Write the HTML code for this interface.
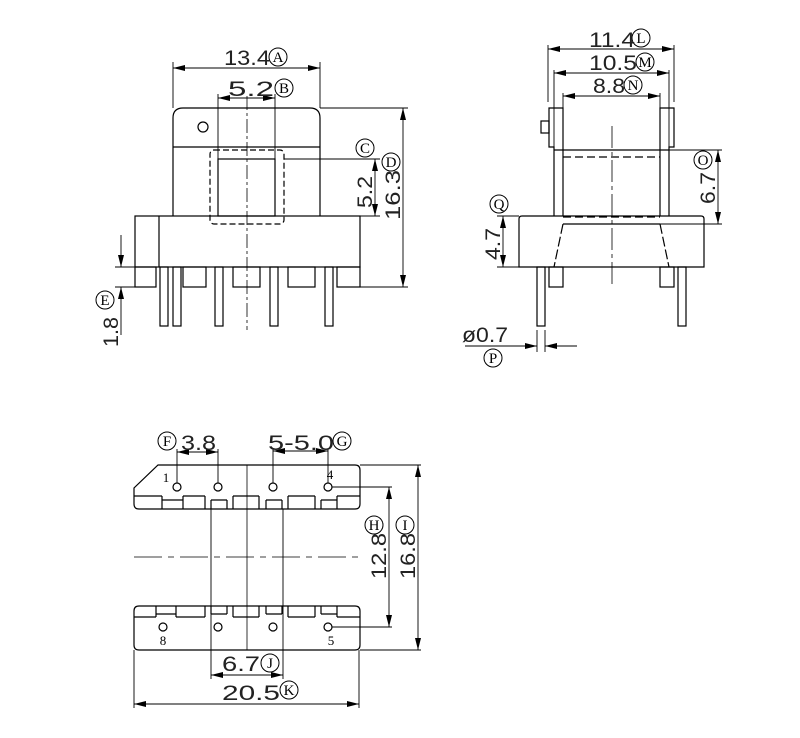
<!DOCTYPE html>
<html><head><style>body{margin:0;background:#fff}svg{display:block}</style></head><body>
<svg width="800" height="738" viewBox="0 0 800 738" xmlns="http://www.w3.org/2000/svg">
<defs>
<marker id="a" viewBox="0 0 12 6" refX="12" refY="3" markerWidth="12" markerHeight="6" markerUnits="userSpaceOnUse" orient="auto-start-reverse"><path d="M0,0L12,3L0,6z" fill="#000"/></marker>
</defs>
<g fill="none" stroke="#000" stroke-width="1.2">
<!-- FRONT VIEW -->
<path d="M173,216V118Q173,108 183,108H310Q320,108 320,118V216"/>
<line x1="173" y1="147" x2="320" y2="147"/>
<circle cx="203" cy="127" r="5"/>
<rect x="218" y="159" width="57" height="57"/>
<rect x="210" y="150" width="74" height="74" rx="4" stroke-dasharray="6,3"/>
<line x1="247" y1="96" x2="247" y2="330" stroke-dasharray="14,3,3,3" stroke-width="0.8"/>
<rect x="135" y="216" width="225" height="51"/>
<line x1="159" y1="216" x2="159" y2="267"/>
<rect x="135" y="267" width="21" height="20"/>
<rect x="183" y="267" width="23" height="20"/>
<rect x="233" y="267" width="27" height="20"/>
<rect x="288" y="267" width="27" height="20"/>
<rect x="337" y="267" width="23" height="20"/>
<rect x="160" y="267" width="8" height="59"/>
<rect x="173" y="267" width="8" height="59"/>
<rect x="215" y="267" width="8" height="59"/>
<rect x="270" y="267" width="8" height="59"/>
<rect x="325" y="267" width="8" height="59"/>
<g stroke-width="0.9">
<line x1="173" y1="62" x2="173" y2="108"/><line x1="320" y1="62" x2="320" y2="108"/>
<line x1="173" y1="68" x2="320" y2="68" marker-start="url(#a)" marker-end="url(#a)"/>
<line x1="218" y1="94" x2="218" y2="159"/><line x1="275" y1="94" x2="275" y2="159"/>
<line x1="218" y1="98" x2="275" y2="98" marker-start="url(#a)" marker-end="url(#a)"/>
<line x1="320" y1="108" x2="408" y2="108"/><line x1="360" y1="287" x2="408" y2="287"/>
<line x1="403" y1="108" x2="403" y2="287" marker-start="url(#a)" marker-end="url(#a)"/>
<line x1="284" y1="159" x2="380" y2="159"/><line x1="360" y1="216" x2="380" y2="216"/>
<line x1="375" y1="159" x2="375" y2="216" marker-start="url(#a)" marker-end="url(#a)"/>
<line x1="115" y1="267" x2="135" y2="267"/><line x1="115" y1="287" x2="135" y2="287"/>
<line x1="121" y1="235" x2="121" y2="267" marker-end="url(#a)"/>
<line x1="121" y1="335" x2="121" y2="287" marker-end="url(#a)"/>
</g>
<!-- SIDE VIEW -->
<path d="M563,216V108H549V147H554V216"/>
<path d="M660,216V108H674V147H669V216"/>
<rect x="541" y="121" width="8" height="12"/>
<line x1="554" y1="150" x2="669" y2="150"/>
<line x1="563" y1="157" x2="660" y2="157" stroke-dasharray="8,4"/>
<line x1="563" y1="217" x2="660" y2="217" stroke-dasharray="8,4"/>
<line x1="563" y1="224" x2="660" y2="224"/>
<path d="M519,267V219Q519,216 522,216H701Q704,216 704,219V267Z"/>
<line x1="563" y1="224" x2="554" y2="267" stroke-dasharray="10,3"/>
<line x1="660" y1="224" x2="669" y2="267" stroke-dasharray="10,3"/>
<rect x="549" y="267" width="14" height="20"/>
<rect x="660" y="267" width="14" height="20"/>
<rect x="537" y="267" width="8" height="59"/>
<rect x="678" y="267" width="8" height="59"/>
<line x1="612" y1="126" x2="612" y2="287" stroke-dasharray="22,4,4,4" stroke-width="0.8"/>
<g stroke-width="0.9">
<line x1="548" y1="45" x2="548" y2="102"/><line x1="674" y1="45" x2="674" y2="102"/>
<line x1="548" y1="49" x2="674" y2="49" marker-start="url(#a)" marker-end="url(#a)"/>
<line x1="554" y1="70" x2="554" y2="147"/><line x1="669" y1="70" x2="669" y2="147"/>
<line x1="554" y1="73" x2="669" y2="73" marker-start="url(#a)" marker-end="url(#a)"/>
<line x1="563" y1="93" x2="563" y2="108"/><line x1="660" y1="93" x2="660" y2="108"/>
<line x1="563" y1="96" x2="660" y2="96" marker-start="url(#a)" marker-end="url(#a)"/>
<line x1="669" y1="150" x2="722" y2="150"/><line x1="660" y1="224" x2="722" y2="224"/>
<line x1="718" y1="150" x2="718" y2="224" marker-start="url(#a)" marker-end="url(#a)"/>
<line x1="497" y1="216" x2="519" y2="216"/><line x1="497" y1="267" x2="519" y2="267"/>
<line x1="503" y1="216" x2="503" y2="267" marker-start="url(#a)" marker-end="url(#a)"/>
<line x1="537" y1="330" x2="537" y2="352"/><line x1="545" y1="330" x2="545" y2="352"/>
<line x1="465" y1="346" x2="537" y2="346" marker-end="url(#a)"/>
<line x1="577" y1="346" x2="545" y2="346" marker-end="url(#a)"/>
</g>
<!-- BOTTOM VIEW -->
<path d="M158,465H355Q360,465 360,470V504Q360,509 355,509H139Q134,509 134,504V488Z"/>
<path d="M134,496H162M183,496H205M233,496H259M288,496H315M337,496H360M162,500H183M211,500H227M266,500H282M321,500H337M162,496V509M183,496V509M205,496V509M211,500V509M227,500V509M233,496V509M259,496V509M266,500V509M282,500V509M288,496V509M315,496V509M321,500V509M337,496V509"/>
<circle cx="177" cy="487" r="4"/><circle cx="218" cy="487" r="4"/><circle cx="273" cy="487" r="4"/><circle cx="328" cy="487" r="4"/>
<path d="M139,606H355Q360,606 360,611V645Q360,650 355,650H139Q134,650 134,645V611Q134,606 139,606Z"/>
<path d="M134,617H156M176,617H205M233,617H259M288,617H315M337,617H360M156,614H176M211,614H227M266,614H282M321,614H337M156,606V617M176,606V617M205,606V617M211,606V614M227,606V614M233,606V617M259,606V617M266,606V614M282,606V614M288,606V617M315,606V617M321,606V614M337,606V617"/>
<circle cx="163" cy="627" r="4"/><circle cx="218" cy="627" r="4"/><circle cx="273" cy="627" r="4"/><circle cx="328" cy="627" r="4"/>
<line x1="134" y1="557" x2="362" y2="557" stroke-dasharray="28,6,6,6" stroke-width="0.8"/>
<line x1="247" y1="465" x2="247" y2="650" stroke-width="0.8"/>
<g stroke-width="0.9">
<line x1="211" y1="509" x2="211" y2="679"/><line x1="283" y1="509" x2="283" y2="679"/>
<line x1="211" y1="675" x2="283" y2="675" marker-start="url(#a)" marker-end="url(#a)"/>
<line x1="134" y1="650" x2="134" y2="708"/><line x1="359" y1="650" x2="359" y2="708"/>
<line x1="134" y1="704" x2="359" y2="704" marker-start="url(#a)" marker-end="url(#a)"/>
<line x1="332" y1="487" x2="392" y2="487"/><line x1="332" y1="627" x2="392" y2="627"/>
<line x1="389" y1="487" x2="389" y2="627" marker-start="url(#a)" marker-end="url(#a)"/>
<line x1="360" y1="465" x2="421" y2="465"/><line x1="360" y1="650" x2="421" y2="650"/>
<line x1="418" y1="465" x2="418" y2="650" marker-start="url(#a)" marker-end="url(#a)"/>
<line x1="177" y1="483" x2="177" y2="449"/><line x1="218" y1="483" x2="218" y2="449"/>
<line x1="177" y1="452" x2="218" y2="452" marker-start="url(#a)" marker-end="url(#a)"/>
<line x1="273" y1="483" x2="273" y2="449"/><line x1="328" y1="483" x2="328" y2="449"/>
<line x1="273" y1="451" x2="328" y2="451" marker-start="url(#a)" marker-end="url(#a)"/>
</g>
<!-- letter circles -->
<g stroke-width="1">
<circle cx="278" cy="57" r="9"/><circle cx="284" cy="88" r="9"/><circle cx="365" cy="148" r="9"/><circle cx="391" cy="162" r="9"/><circle cx="105" cy="300" r="9"/>
<circle cx="641" cy="38" r="9"/><circle cx="645" cy="62" r="9"/><circle cx="633" cy="85" r="9"/><circle cx="703" cy="160" r="9"/><circle cx="499" cy="204" r="9"/><circle cx="493" cy="358" r="9"/>
<circle cx="167" cy="441" r="9"/><circle cx="342" cy="441" r="9"/><circle cx="374" cy="525" r="9"/><circle cx="405" cy="525" r="9"/><circle cx="270" cy="663" r="9"/><circle cx="289" cy="690" r="9"/>
</g>
</g>
<g font-family="Liberation Serif, serif" font-size="15" text-anchor="middle" fill="#000">
<text x="278" y="62">A</text><text x="284" y="93">B</text><text x="365" y="153">C</text><text x="391" y="167">D</text><text x="105" y="305">E</text>
<text x="641" y="43">L</text><text x="645" y="67">M</text><text x="633" y="90">N</text><text x="703" y="165">O</text><text x="499" y="209">Q</text><text x="493" y="363">P</text>
<text x="167" y="446">F</text><text x="342" y="446">G</text><text x="374" y="530">H</text><text x="405" y="530">I</text><text x="270" y="668">J</text><text x="289" y="695">K</text>
</g>
<g font-family="Liberation Serif, serif" font-size="13" text-anchor="middle" fill="#000">
<text x="166" y="482">1</text><text x="330" y="479">4</text><text x="163" y="645">8</text><text x="331" y="645">5</text>
</g>
<g font-family="Liberation Sans, sans-serif" font-size="21" fill="#222">
<text x="224" y="65" textLength="46" lengthAdjust="spacingAndGlyphs">13.4</text>
<text x="228" y="96" textLength="46" lengthAdjust="spacingAndGlyphs">5.2</text>
<text x="589" y="47" textLength="46" lengthAdjust="spacingAndGlyphs">11.4</text>
<text x="589" y="70" textLength="48" lengthAdjust="spacingAndGlyphs">10.5</text>
<text x="593" y="93" textLength="32" lengthAdjust="spacingAndGlyphs">8.8</text>
<text x="462" y="342" textLength="46" lengthAdjust="spacingAndGlyphs">ø0.7</text>
<text x="181" y="450" textLength="35" lengthAdjust="spacingAndGlyphs">3.8</text>
<text x="268" y="450" textLength="66" lengthAdjust="spacingAndGlyphs">5-5.0</text>
<text x="222" y="671" textLength="38" lengthAdjust="spacingAndGlyphs">6.7</text>
<text x="222" y="700" textLength="58" lengthAdjust="spacingAndGlyphs">20.5</text>
<text transform="translate(372,208) rotate(-90)" textLength="32" lengthAdjust="spacingAndGlyphs">5.2</text>
<text transform="translate(400,220) rotate(-90)" textLength="50" lengthAdjust="spacingAndGlyphs">16.3</text>
<text transform="translate(118,347) rotate(-90)" textLength="30" lengthAdjust="spacingAndGlyphs">1.8</text>
<text transform="translate(715,204) rotate(-90)" textLength="32" lengthAdjust="spacingAndGlyphs">6.7</text>
<text transform="translate(500,260) rotate(-90)" textLength="32" lengthAdjust="spacingAndGlyphs">4.7</text>
<text transform="translate(386,579) rotate(-90)" textLength="46" lengthAdjust="spacingAndGlyphs">12.8</text>
<text transform="translate(415,579) rotate(-90)" textLength="46" lengthAdjust="spacingAndGlyphs">16.8</text>
</g>
</svg>
</body></html>
